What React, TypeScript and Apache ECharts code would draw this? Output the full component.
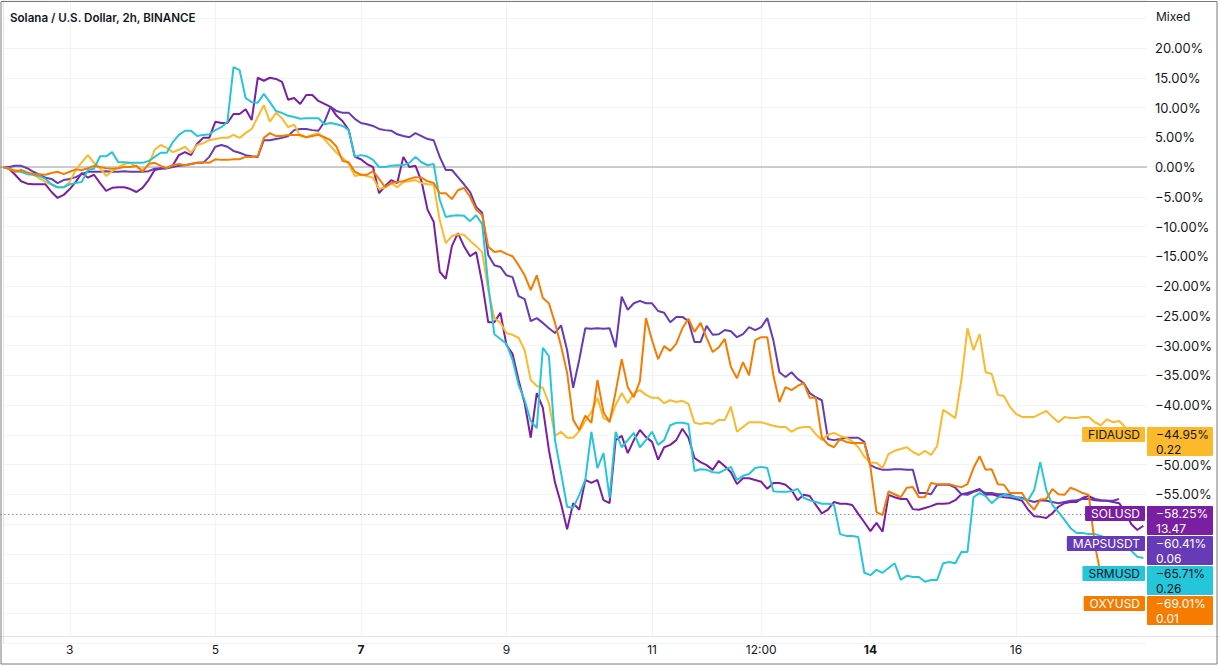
import React, { useEffect, useRef } from "react";
import * as echarts from "echarts";

const FONT = "Inter, 'Noto Sans', 'DejaVu Sans', sans-serif";
const TEXT = "#131722";

const TITLE = "Solana / U.S. Dollar, 2h, BINANCE";
const SCALE_MODE = "Mixed";

// Series metadata (order = order of the price labels on the right, top to bottom)
const SERIES_NAMES = ["FIDAUSD", "SOLUSD", "MAPSUSDT", "SRMUSD", "OXYUSD"];
const SERIES_COLORS = ["#fbb92b", "#7b1fa2", "#673ab7", "#26c6da", "#f57c00"];
const LABEL_TEXT_COLORS = ["#131722", "#ffffff", "#ffffff", "#131722", "#ffffff"];
const LAST_PCT = [-44.95, -58.25, -60.41, -65.71, -69.01];
const LAST_PRICE = ["0.22", "13.47", "0.06", "0.26", "0.01"];
const MAIN_SYMBOL = "SOLUSD";

// Y axis range (percent)
const Y_MIN = -80;
const Y_MAX = 28.07;
const Y_STEP = 5;

// X axis: 2h bars counted from Nov 2 02:00
const X_MAX_BAR = 188.6;
const X_TICK_BARS = [11, 35, 59, 83, 107, 125, 143, 167];
const X_TICK_LABELS = ["3", "5", "7", "9", "11", "12:00", "14", "16"];
const X_BOLD_LABELS = ["7", "14"];

// Percent change per 2h bar
const fidaPct = [
  0, -0.3, -0.5, -0.8, -1.0, -1.3, -1.9, -2.5, -3.0, -3.4,
  -3.4, -2.5, -0.5, 0.8, 2.0, 0.7, -0.2, -1.5, -0.7, 0.0,
  0.5, 0.7, 0.0, -0.5, 0.3, 2.9, 3.7, 3.2, 2.5, 2.9,
  3.4, 2.4, 3.7, 4.0, 4.5, 4.7, 4.9, 4.9, 5.4, 4.9,
  5.7, 6.4, 8.4, 10.4, 7.6, 9.1, 8.2, 6.7, 7.1, 5.2,
  5.0, 5.4, 5.7, 4.7, 3.5, 2.4, 1.5, 0.5, -1.5, -1.3,
  -1.5, -1.8, -3.7, -3.4, -2.7, -3.4, -2.5, -2.4, -2.2, -2.7,
  -2.9, -3.0, -8.9, -12.8, -11.6, -11.3, -11.4, -12.4, -13.3, -14.3,
  -20.7, -25.4, -26.2, -27.9, -28.2, -28.7, -30.8, -35.8, -36.8, -37.1,
  -39.7, -45.2, -44.5, -45.5, -45.5, -44.4, -42.7, -41.2, -38.8, -42.2,
  -42.7, -40.0, -38.0, -39.7, -38.0, -37.5, -38.3, -38.8, -38.8, -39.7,
  -39.2, -39.5, -39.3, -39.8, -43.0, -43.2, -43.0, -43.2, -42.5, -42.5,
  -40.3, -44.5, -43.7, -42.9, -42.9, -42.9, -43.2, -43.5, -43.7, -43.7,
  -44.5, -43.9, -43.7, -43.7, -44.9, -45.9, -45.0, -44.7, -45.2, -45.5,
  -46.1, -47.1, -48.7, -49.7, -49.7, -50.6, -48.2, -47.7, -47.4, -47.1,
  -47.9, -48.4, -47.7, -48.4, -46.9, -40.8, -41.5, -42.2, -35.8, -27.1,
  -30.8, -28.1, -34.5, -34.8, -38.3, -38.5, -40.3, -41.5, -42.0, -42.0,
  -42.0, -41.5, -41.0, -42.0, -42.9, -42.0, -42.2, -42.2, -42.0, -42.0,
  -42.9, -43.4, -42.4, -42.9, -42.7, -43.7,
];

const solPct = [
  0, -0.3, -1.3, -2.4, -2.8, -2.9, -2.9, -2.9, -4.2, -5.2,
  -4.7, -3.7, -2.5, -1.0, -1.8, -1.3, -2.7, -4.0, -3.5, -3.4,
  -3.4, -3.7, -4.2, -3.5, -2.2, -0.5, -0.3, -0.2, 0.3, 2.0,
  2.5, 2.0, 3.9, 4.9, 4.9, 7.6, 7.4, 7.4, 8.9, 8.9,
  9.7, 7.9, 15.0, 14.5, 15.0, 14.8, 14.3, 11.3, 11.6, 10.6,
  12.1, 12.1, 11.1, 10.6, 10.1, 8.6, 7.7, 6.2, 1.7, 1.3,
  0.5, 0.0, -4.4, -3.2, -2.2, -2.7, 1.7, 0.0, 0.2, -2.4,
  -7.2, -9.2, -17.6, -18.8, -13.3, -11.1, -13.3, -15.0, -14.3, -19.5,
  -26.1, -26.1, -24.5, -29.9, -31.4, -35.8, -39.7, -45.5, -38.0, -40.5,
  -47.6, -53.0, -56.6, -60.9, -56.5, -57.6, -52.6, -53.1, -52.6, -56.0,
  -56.5, -45.9, -45.2, -48.1, -45.9, -44.2, -45.4, -46.2, -49.2, -47.1,
  -46.7, -45.9, -44.0, -45.5, -48.9, -49.6, -50.1, -50.9, -49.4, -50.3,
  -51.3, -53.3, -52.3, -52.3, -52.6, -52.9, -54.1, -53.1, -53.1, -53.4,
  -54.3, -56.0, -55.1, -55.3, -56.8, -58.2, -57.6, -56.3, -56.6, -56.6,
  -56.8, -58.3, -59.7, -61.2, -59.8, -61.3, -55.1, -55.5, -55.8, -55.8,
  -57.5, -57.6, -57.3, -57.0, -56.6, -56.6, -56.5, -56.0, -55.0, -54.8,
  -54.5, -54.1, -55.1, -55.0, -55.3, -55.5, -55.6, -55.8, -56.1, -57.6,
  -58.7, -58.8, -59.0, -58.2, -57.1, -56.5, -56.3, -56.3, -55.6, -55.3,
  -55.8, -56.0, -56.1, -56.3, -56.5, -58.0, -60.0, -61.0, -60.3,
];

const mapsPct = [
  0, 0.0, 0.2, 0.2, -0.2, -0.8, -1.3, -1.8, -2.0, -2.7,
  -2.2, -2.0, -1.7, -1.2, -0.8, -0.8, -0.8, -0.7, -0.8, -0.8,
  -0.7, -0.8, -0.8, -0.8, -0.7, -0.3, -0.2, -0.2, 0.0, 0.2,
  0.3, 0.5, 0.7, 0.7, 1.7, 3.4, 3.7, 3.4, 2.7, 2.4,
  2.0, 1.8, 1.7, 4.5, 4.5, 4.7, 4.9, 5.2, 6.2, 6.4,
  6.4, 6.2, 6.1, 7.6, 10.1, 9.4, 9.1, 9.1, 8.1, 7.4,
  7.2, 6.9, 6.4, 6.2, 6.1, 5.5, 5.2, 5.0, 5.7, 5.2,
  4.7, 4.5, 1.7, -0.5, -0.5, -1.7, -2.9, -4.2, -6.7, -7.7,
  -14.8, -16.5, -16.8, -18.2, -18.5, -21.7, -22.2, -25.9, -25.4, -26.2,
  -27.1, -27.9, -26.6, -30.8, -37.1, -32.4, -27.1, -27.2, -27.1, -27.2,
  -27.1, -30.3, -21.8, -24.0, -22.9, -22.5, -22.9, -22.9, -24.2, -24.5,
  -26.1, -25.2, -25.2, -25.9, -29.4, -29.4, -26.7, -28.2, -28.1, -27.4,
  -27.6, -28.6, -28.1, -26.9, -27.4, -26.9, -25.4, -29.1, -34.5, -35.3,
  -34.5, -35.6, -36.3, -38.0, -38.7, -39.2, -45.7, -45.9, -45.7, -45.5,
  -45.5, -45.5, -46.2, -50.1, -50.6, -50.9, -50.9, -50.8, -50.8, -50.9,
  -50.9, -54.8, -54.8, -55.0, -53.4, -53.4, -53.4, -53.9, -55.0, -55.1,
  -54.6, -54.3, -54.8, -54.8, -55.0, -55.0, -55.1, -55.5, -55.6, -56.0,
  -56.3, -56.0, -56.1, -56.3, -56.5, -56.3, -56.1, -56.0, -55.8, -55.8,
  -56.0, -56.1, -56.1, -56.1, -55.8,
];

const srmPct = [
  0, -0.3, -0.7, -0.8, -1.2, -1.3, -1.5, -2.0, -2.9, -3.4,
  -3.4, -2.9, -2.7, -2.5, -0.5, -0.3, 1.8, 1.8, 2.5, 0.8,
  0.8, 0.7, 0.7, 0.7, 1.0, 1.7, 2.4, 2.4, 4.2, 5.4,
  6.1, 6.1, 5.2, 5.4, 5.5, 6.2, 6.7, 7.6, 16.8, 16.3,
  11.6, 10.9, 10.8, 12.3, 10.9, 9.4, 9.1, 8.6, 8.4, 8.1,
  8.2, 8.2, 8.2, 7.2, 7.4, 7.2, 6.9, 6.2, 1.7, 2.0,
  1.8, 1.2, 0.0, 0.0, 0.2, 0.3, 0.3, 0.7, 1.7, 0.8,
  0.3, 0.5, -5.5, -8.4, -8.2, -8.1, -8.2, -9.1, -8.1, -9.6,
  -19.8, -28.1, -28.9, -29.7, -32.4, -36.6, -39.2, -42.7, -43.9, -30.4,
  -31.8, -45.9, -51.4, -57.1, -57.3, -55.1, -52.6, -44.5, -50.6, -48.1,
  -55.6, -44.5, -47.1, -45.9, -44.7, -47.1, -45.9, -44.5, -46.7, -45.9,
  -43.4, -43.0, -43.0, -43.2, -51.1, -50.8, -50.9, -51.3, -51.4, -50.9,
  -50.4, -52.6, -51.9, -51.6, -50.6, -50.4, -50.6, -54.5, -54.6, -54.6,
  -54.5, -54.1, -55.6, -56.0, -56.3, -56.6, -56.6, -56.8, -61.7, -62.0,
  -62.0, -62.2, -68.2, -68.6, -67.7, -68.2, -67.4, -66.6, -69.4, -68.7,
  -68.9, -68.9, -69.7, -69.4, -69.4, -66.6, -66.4, -66.6, -64.7, -64.7,
  -55.5, -54.8, -55.3, -56.5, -55.6, -55.1, -55.3, -55.5, -55.8, -56.0,
  -54.3, -49.6, -54.3, -56.8, -58.0, -59.3, -60.7, -61.5, -61.5, -61.7,
  -61.7, -62.0, -62.4, -62.4, -62.7, -63.2, -64.5, -65.5, -65.7,
];

const oxyPct = [
  0, -0.3, -0.8, -0.5, -0.9, -1.2, -1.2, -1.3, -1.0, -0.8,
  -1.2, -0.8, -0.4, -0.5, -0.2, 0.2, 0.0, -0.2, -0.3, -0.2,
  0.0, 0.0, 0.2, -0.8, 0.5, 0.7, 0.2, -0.2, 0.3, 0.5,
  0.3, 0.5, 0.7, 0.8, 0.7, 1.3, 1.2, 1.2, 1.3, 1.3,
  1.7, 1.7, 1.8, 4.9, 5.7, 5.2, 5.2, 5.4, 5.4, 5.4,
  5.0, 5.2, 5.4, 5.0, 4.5, 3.4, 1.0, 0.8, -0.8, -1.3,
  -1.3, -0.7, -2.0, -3.4, -2.7, -2.5, -2.4, -2.0, -1.7, -1.8,
  -2.4, -2.7, -4.4, -4.4, -5.4, -3.9, -3.5, -5.0, -7.2, -8.1,
  -13.4, -14.3, -14.1, -14.6, -15.0, -16.5, -18.2, -20.7, -18.2, -22.0,
  -22.9, -26.2, -30.1, -34.6, -42.5, -44.2, -41.8, -43.0, -35.8, -41.2,
  -42.9, -37.8, -32.3, -37.0, -38.7, -36.0, -25.4, -29.1, -32.3, -30.1,
  -30.9, -29.7, -27.1, -25.5, -27.7, -26.2, -28.7, -31.1, -30.3, -28.9,
  -33.6, -35.5, -32.8, -35.0, -29.1, -28.6, -28.6, -35.0, -39.5, -37.0,
  -37.5, -36.8, -36.3, -38.8, -38.8, -45.5, -46.6, -47.1, -45.7, -46.2,
  -46.4, -46.4, -46.4, -50.4, -58.0, -58.5, -54.5, -55.0, -55.5, -53.9,
  -53.8, -55.5, -55.5, -53.1, -53.3, -53.3, -53.3, -53.6, -53.8, -53.3,
  -50.6, -48.6, -50.9, -50.8, -53.3, -53.4, -54.8, -54.8, -54.8, -56.5,
  -57.6, -55.9, -55.8, -54.1, -55.0, -55.1, -53.9, -54.3, -54.8, -55.1,
  -63.5, -68.6, -69.0,
];

const SERIES_VALUES = [fidaPct, solPct, mapsPct, srmPct, oxyPct];
// drawing order (first = bottom)
const DRAW_ORDER = [1, 2, 0, 3, 4];

const fmtPct = (v: number) =>
  (v < 0 ? "\u2212" : "") + Math.abs(v).toFixed(2) + "%";

const BOX_H = 29;

export default function App() {
  const ref = useRef<HTMLDivElement>(null);

  useEffect(() => {
    if (!ref.current) return;
    const chart = echarts.init(ref.current, undefined, { renderer: "svg" });

    const series = DRAW_ORDER.map((k) => ({
      name: SERIES_NAMES[k],
      type: "line",
      data: SERIES_VALUES[k].map((v, i) => [i, v]),
      showSymbol: false,
      symbol: "none",
      lineStyle: { color: SERIES_COLORS[k], width: 2 },
      itemStyle: { color: SERIES_COLORS[k] },
      z: 3,
    }));

    const yLabelStyle = {
      margin: 8,
      color: TEXT,
      fontSize: 13,
      fontFamily: FONT,
    };

    const option: any = {
      animation: false,
      textStyle: { fontFamily: FONT },
      grid: { left: 0, right: 73, top: 0, bottom: 23 },
      xAxis: {
        type: "value",
        min: 0,
        max: X_MAX_BAR,
        interval: 1,
        axisLine: { show: false },
        axisTick: { show: false },
        splitLine: { show: false },
        axisLabel: {
          margin: 6,
          verticalAlign: "middle",
          color: TEXT,
          fontSize: 12,
          fontFamily: FONT,
          hideOverlap: false,
          formatter: (v: number) => {
            const r = Math.round(v);
            const idx = X_TICK_BARS.indexOf(r);
            if (idx < 0 || Math.abs(v - r) > 1e-6) return "";
            const lab = X_TICK_LABELS[idx];
            return X_BOLD_LABELS.includes(lab) ? `{b|${lab}}` : lab;
          },
          rich: {
            b: { fontWeight: "bold", fontSize: 12, color: TEXT, fontFamily: FONT },
          },
        },
      },
      yAxis: {
        type: "value",
        position: "right",
        min: Y_MIN,
        max: Y_MAX,
        interval: Y_STEP,
        axisLine: { show: true, lineStyle: { color: "#e0e3eb", width: 1 } },
        axisTick: { show: false },
        splitLine: { show: true, lineStyle: { color: "#f2f3f6", width: 1 } },
        axisLabel: {
          ...yLabelStyle,
          formatter: (v: number) => (v > 20 ? "" : fmtPct(v)),
        },
      },
      series,
    };
    chart.setOption(option);

    const px = (bar: number) => chart.convertToPixel({ xAxisIndex: 0 }, bar) as number;
    const py = (pct: number) => chart.convertToPixel({ yAxisIndex: 0 }, pct) as number;
    const plotRight = px(X_MAX_BAR);

    // stacked positions of the last-value labels
    const boxTops: number[] = [];
    let prevBottom = -Infinity;
    LAST_PCT.forEach((v) => {
      const top = Math.max(Math.round(py(v) - 7.5), prevBottom);
      boxTops.push(top);
      prevBottom = top + BOX_H + 1;
    });

    const graphics: any[] = [];

    // vertical grid lines at the time labels
    X_TICK_BARS.forEach((b) => {
      const x = Math.round(px(b)) + 0.5;
      graphics.push({
        type: "line",
        z: 1,
        silent: true,
        shape: { x1: x, y1: 2, x2: x, y2: 636 },
        style: { stroke: "#f0f2f5", lineWidth: 1 },
      });
    });

    // zero line
    const y0 = py(0);
    graphics.push({
      type: "line",
      z: 1,
      silent: true,
      shape: { x1: 0, y1: y0, x2: plotRight, y2: y0 },
      style: { stroke: "#bdbdbd", lineWidth: 1.5 },
    });

    // main symbol last-price dotted line
    const mainIdx = SERIES_NAMES.indexOf(MAIN_SYMBOL);
    const yMain = Math.round(py(LAST_PCT[mainIdx])) + 0.5;
    graphics.push({
      type: "line",
      z: 2,
      silent: true,
      shape: { x1: 0, y1: yMain, x2: plotRight, y2: yMain },
      style: { stroke: "#a27ccb", lineWidth: 1, lineDash: [1.5, 2.5] },
    });

    // bottom separator (time scale)
    graphics.push({
      type: "line",
      z: 1,
      silent: true,
      shape: { x1: 0, y1: 636.5, x2: 1220, y2: 636.5 },
      style: { stroke: "#e0e3eb", lineWidth: 1 },
    });

    // title + scale mode
    graphics.push({
      type: "text",
      z: 20,
      x: 10,
      y: 18,
      style: {
        text: TITLE,
        fill: TEXT,
        font: `600 11.6px ${FONT}`,
        verticalAlign: "middle",
      },
    });
    graphics.push({
      type: "text",
      z: 20,
      x: 1156,
      y: 16,
      style: {
        text: SCALE_MODE,
        fill: TEXT,
        font: `12px ${FONT}`,
        verticalAlign: "middle",
      },
    });

    // last value labels
    SERIES_NAMES.forEach((name, k) => {
      const top = boxTops[k];
      const color = SERIES_COLORS[k];
      const tc = LABEL_TEXT_COLORS[k];
      graphics.push({
        type: "rect",
        z: 30,
        shape: { x: plotRight, y: top, width: 66, height: BOX_H, r: 1 },
        style: { fill: color },
      });
      graphics.push({
        type: "text",
        z: 31,
        x: plotRight + 9,
        y: top + 7.5,
        style: {
          text: fmtPct(LAST_PCT[k]),
          fill: tc,
          font: `12px ${FONT}`,
          verticalAlign: "middle",
        },
      });
      graphics.push({
        type: "text",
        z: 31,
        x: plotRight + 9,
        y: top + 22,
        style: {
          text: LAST_PRICE[k],
          fill: tc,
          font: `12px ${FONT}`,
          verticalAlign: "middle",
        },
      });
      graphics.push({
        type: "text",
        z: 31,
        x: plotRight - 2,
        y: top,
        style: {
          text: name,
          fill: tc,
          font: `12px ${FONT}`,
          align: "right",
          verticalAlign: "top",
          backgroundColor: color,
          padding: [1, 5, 1, 6],
          lineHeight: 13,
          borderRadius: 1,
        },
      });
    });

    // outer frame
    graphics.push({
      type: "rect",
      z: 40,
      silent: true,
      shape: { x: 1, y: 1.5, width: 1216, height: 662.5 },
      style: { fill: "none", stroke: "#7a7a7a", lineWidth: 1 },
    });

    // hide axis labels that sit under a last-value label
    const hiddenUnderBox = (v: number) => {
      const y = py(v);
      return boxTops.some((t) => y >= t - 6 && y <= t + BOX_H + 6);
    };

    chart.setOption({
      yAxis: {
        axisLabel: {
          ...yLabelStyle,
          formatter: (v: number) =>
            v > 20 || v < Y_MIN + 1 || hiddenUnderBox(v) ? "" : fmtPct(v),
        },
      },
      graphic: graphics,
    });

    return () => chart.dispose();
  }, []);

  return (
    <div
      ref={ref}
      style={{
        position: "fixed",
        left: 0,
        top: 0,
        width: 1220,
        height: 666,
        background: "#ffffff",
      }}
    />
  );
}
